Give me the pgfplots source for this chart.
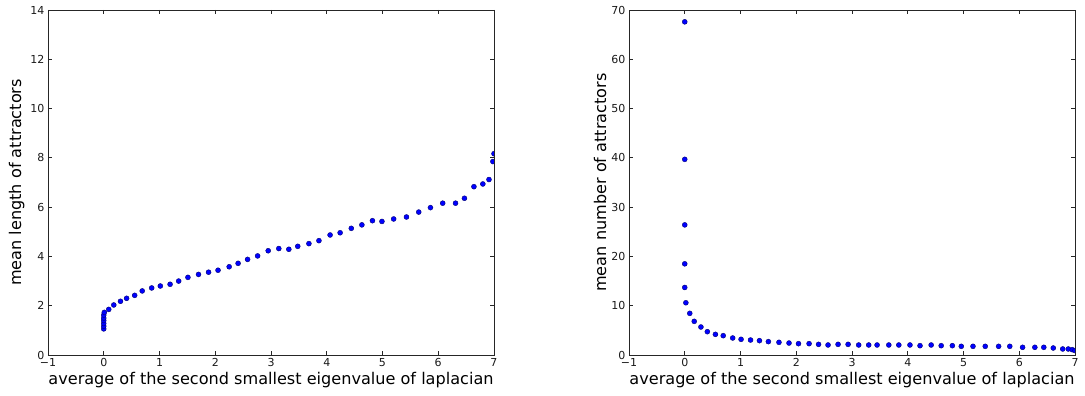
\documentclass[border=0pt]{standalone}
\usepackage{fontspec}
\setmainfont{DejaVu Sans}
\usepackage{pgfplots}
\usepackage{pgfplotstable}
\pgfplotsset{compat=1.18}

% mean attractor length against the averaged algebraic connectivity
\pgfplotstableread{
x y
0.000 1.06
0.000 1.17
0.000 1.28
0.000 1.40
0.000 1.50
0.000 1.62
0.010 1.73
0.090 1.85
0.180 2.03
0.300 2.18
0.410 2.30
0.555 2.42
0.690 2.60
0.860 2.72
1.015 2.80
1.190 2.87
1.344 3.00
1.510 3.15
1.700 3.27
1.880 3.36
2.050 3.44
2.250 3.58
2.410 3.72
2.580 3.88
2.760 4.02
2.950 4.23
3.140 4.32
3.320 4.29
3.480 4.41
3.680 4.52
3.860 4.64
4.060 4.87
4.240 4.96
4.440 5.14
4.630 5.28
4.820 5.45
4.990 5.42
5.200 5.52
5.430 5.60
5.650 5.80
5.860 5.98
6.080 6.16
6.310 6.16
6.470 6.36
6.640 6.83
6.800 6.94
6.910 7.12
6.980 7.85
7.000 8.17
6.995 14.04
}\lengthdata

% mean number of attractors against the averaged algebraic connectivity
\pgfplotstableread{
x y
0.000 67.6
0.000 39.7
0.000 26.4
0.000 18.5
0.000 13.7
0.020 10.6
0.090 8.45
0.170 6.83
0.290 5.68
0.405 4.73
0.550 4.19
0.690 3.92
0.860 3.45
1.010 3.18
1.180 3.04
1.340 2.91
1.500 2.71
1.690 2.57
1.870 2.43
2.040 2.30
2.230 2.30
2.400 2.16
2.570 2.03
2.750 2.16
2.930 2.16
3.120 2.03
3.300 2.03
3.450 2.03
3.660 2.03
3.840 2.03
4.040 2.03
4.220 1.89
4.420 2.03
4.600 1.89
4.800 1.89
4.960 1.76
5.170 1.76
5.390 1.76
5.630 1.76
5.830 1.76
6.060 1.56
6.280 1.56
6.440 1.56
6.610 1.42
6.780 1.22
6.880 1.22
6.950 1.08
7.000 0.90
}\countdata

\newcommand\labelfont{\fontsize{16.1}{19}\selectfont}

\pgfplotsset{
  mplstyle/.style={
    scale only axis,
    width=446pt, height=345pt,
    xmin=-1, xmax=7,
    xtick={-1,0,...,7},
    xticklabels={−1,0,1,2,3,4,5,6,7},
    tick align=inside, tick pos=both,
    major tick length=4pt,
    clip marker paths=true,
    axis line style={black!85, line width=0.9pt},
    every tick/.style={black!85, line width=0.8pt},
    /pgf/number format/assume math mode=true,
    tick label style={font=\fontsize{11}{13}\selectfont, text=black!90},
    every axis x label/.style={at={(axis description cs:0.5,-0.072)}, anchor=center, font=\labelfont},
    every axis y label/.style={at={(axis description cs:-0.07,0.5)}, rotate=90, anchor=center, font=\labelfont},
    xlabel={average of the second smallest eigenvalue of laplacian},
  },
  dots/.style={only marks, mark=*, mark size=2.5pt,
    mark options={fill=blue, draw=black!55!blue, line width=0.4pt}},
}

\begin{document}
\begin{tikzpicture}
\useasboundingbox (0pt,0pt) rectangle (1085pt,396pt);

\begin{axis}[mplstyle, at={(48pt,41pt)}, anchor=south west,
  ymin=0, ymax=14, ytick={0,2,...,14},
  ylabel={mean length of attractors}]
  \addplot[dots] table[x=x, y=y] {\lengthdata};
\end{axis}

\begin{axis}[mplstyle, at={(629pt,41pt)}, anchor=south west,
  ymin=0, ymax=70, ytick={0,10,...,70},
  every axis y label/.style={at={(axis description cs:-0.065,0.5)}, rotate=90, anchor=center, font=\labelfont},
  ylabel={mean number of attractors}]
  \addplot[dots] table[x=x, y=y] {\countdata};
\end{axis}
\end{tikzpicture}
\end{document}
